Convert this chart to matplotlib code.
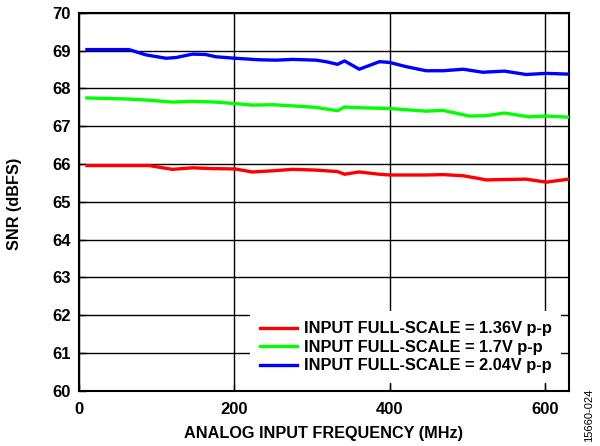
import matplotlib
matplotlib.use("Agg")
import matplotlib.pyplot as plt

plt.rcParams['font.family'] = ['Liberation Sans', 'DejaVu Sans']

freq_blue = [10, 64, 86, 112, 125, 146, 163, 176, 201, 232, 254, 275, 305, 318, 333, 342, 348, 361,
             387, 400, 421, 447, 469, 495, 520, 548, 576, 602, 631]
snr_blue = [69.03, 69.03, 68.89, 68.80, 68.82, 68.91, 68.90, 68.84, 68.80, 68.76, 68.75, 68.77, 68.75,
            68.71, 68.64, 68.73, 68.66, 68.51, 68.71, 68.69, 68.58, 68.47, 68.47, 68.51, 68.43, 68.46,
            68.37, 68.40, 68.38]

freq_green = [10, 64, 90, 120, 146, 176, 201, 223, 249, 275, 305, 333, 342, 361, 400, 447, 469, 503,
              525, 548, 580, 602, 631]
snr_green = [67.75, 67.72, 67.69, 67.64, 67.66, 67.64, 67.60, 67.56, 67.57, 67.54, 67.50, 67.41, 67.51,
             67.49, 67.47, 67.40, 67.42, 67.27, 67.28, 67.35, 67.25, 67.27, 67.24]

freq_red = [10, 64, 90, 120, 146, 171, 201, 223, 249, 275, 305, 333, 342, 361, 387, 400, 447, 469, 495,
            525, 548, 576, 602, 631]
snr_red = [65.96, 65.96, 65.96, 65.86, 65.90, 65.88, 65.87, 65.79, 65.82, 65.86, 65.84, 65.80, 65.73,
           65.79, 65.73, 65.71, 65.71, 65.72, 65.69, 65.58, 65.59, 65.60, 65.52, 65.60]

labels = ["INPUT FULL-SCALE = 1.36V p-p", "INPUT FULL-SCALE = 1.7V p-p", "INPUT FULL-SCALE = 2.04V p-p"]
x_ticks = [0, 200, 400, 600]
y_ticks = list(range(60, 71))

fig = plt.figure(figsize=(6.0, 4.46), dpi=100)
ax = fig.add_axes([0.132, 0.124, 0.816, 0.847])

ax.plot(freq_red, snr_red, color='#ff0000', lw=2.4, label=labels[0], zorder=3)
ax.plot(freq_green, snr_green, color='#00ff00', lw=2.4, label=labels[1], zorder=3)
ax.plot(freq_blue, snr_blue, color='#0000ff', lw=2.4, label=labels[2], zorder=3)

ax.set_xlim(0, 631)
ax.set_ylim(60, 70)
ax.set_xticks(x_ticks)
ax.set_yticks(y_ticks)
ax.grid(True, color='black', lw=1.0)
ax.set_axisbelow(True)
ax.tick_params(direction='in', length=5, width=1, labelsize=12, top=False, right=False)
ax.tick_params(axis='x', pad=8)
ax.tick_params(axis='y', pad=6)
for lab in ax.get_xticklabels() + ax.get_yticklabels():
    lab.set_fontweight('bold')
for s in ax.spines.values():
    s.set_linewidth(1.5)

ax.set_xlabel("ANALOG INPUT FREQUENCY (MHz)", fontsize=11.7, fontweight='bold')
ax.set_ylabel("SNR (dBFS)", fontsize=11.7, fontweight='bold')
ax.xaxis.set_label_coords(0.499, -0.093)
ax.yaxis.set_label_coords(-0.117, 0.495)

leg = ax.legend(loc='lower right', frameon=True, fancybox=False, framealpha=1.0, edgecolor='white',
                prop={'weight': 'bold', 'size': 11.8}, handlelength=2.25, handletextpad=0.4,
                labelspacing=0.22, borderaxespad=0.45, borderpad=0.6)
leg.get_frame().set_linewidth(0)

fig.text(0.982, 0.008, "15660-024", rotation=90, fontsize=8, ha='center', va='bottom')

fig.savefig("out.png", dpi=100)
